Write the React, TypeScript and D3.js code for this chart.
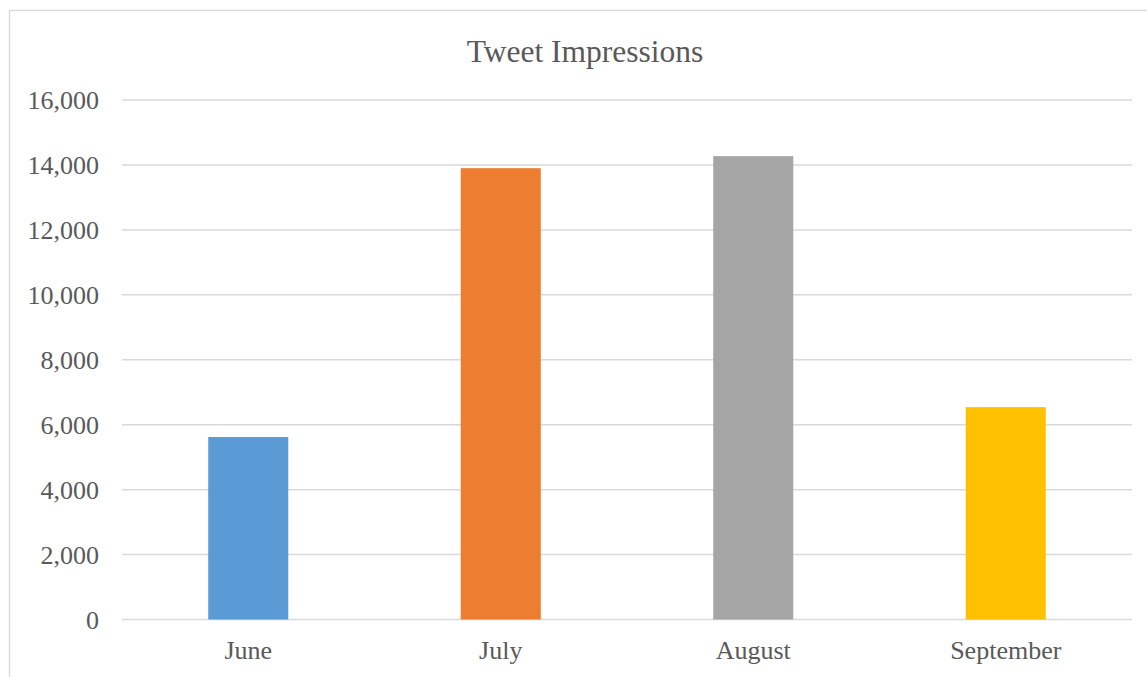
import React from "react";
import * as d3 from "d3";

const categories = ["June", "July", "August", "September"];
const impressions = [5620, 13900, 14270, 6540];
const barColors = ["#5B9BD5", "#ED7D31", "#A5A5A5", "#FFC000"];
const yTicks = [0, 2000, 4000, 6000, 8000, 10000, 12000, 14000, 16000];
const title = "Tweet Impressions";

const W = 1147;
const H = 677;
const plot = { left: 122, right: 1132, top: 100, bottom: 619.5 };

export default function App() {
  const x = d3
    .scaleBand<string>()
    .domain(categories)
    .range([plot.left, plot.right])
    .paddingInner(0.683)
    .paddingOuter(0.3415);
  const y = d3.scaleLinear().domain([0, 16000]).range([plot.bottom, plot.top]);
  const fmt = d3.format(",");
  const font = "'Liberation Serif', 'Times New Roman', serif";

  return (
    <svg
      width={W}
      height={H}
      style={{ position: "absolute", left: 0, top: 0, background: "#fff" }}
      fontFamily={font}
    >
      <rect x={0} y={0} width={W} height={H} fill="#fff" />
      <rect
        x={9.5}
        y={10.5}
        width={W + 20}
        height={H + 20}
        fill="none"
        stroke="#D9D9D9"
        strokeWidth={1.3}
      />
      <text x={585} y={62} textAnchor="middle" fontSize={31.5} fill="#595959">
        {title}
      </text>
      {yTicks.map((t) => (
        <g key={t}>
          <line
            x1={plot.left}
            x2={plot.right}
            y1={y(t)}
            y2={y(t)}
            stroke="#D9D9D9"
            strokeWidth={1.5}
          />
          <text
            x={99}
            y={y(t) + 9}
            textAnchor="end"
            fontSize={26}
            fill="#595959"
          >
            {fmt(t)}
          </text>
        </g>
      ))}
      {categories.map((c, i) => (
        <rect
          key={c}
          x={x(c)}
          y={y(impressions[i])}
          width={x.bandwidth()}
          height={y(0) - y(impressions[i])}
          fill={barColors[i]}
        />
      ))}
      {categories.map((c) => (
        <text
          key={c}
          x={(x(c) as number) + x.bandwidth() / 2}
          y={659}
          textAnchor="middle"
          fontSize={26}
          fill="#595959"
        >
          {c}
        </text>
      ))}
    </svg>
  );
}
